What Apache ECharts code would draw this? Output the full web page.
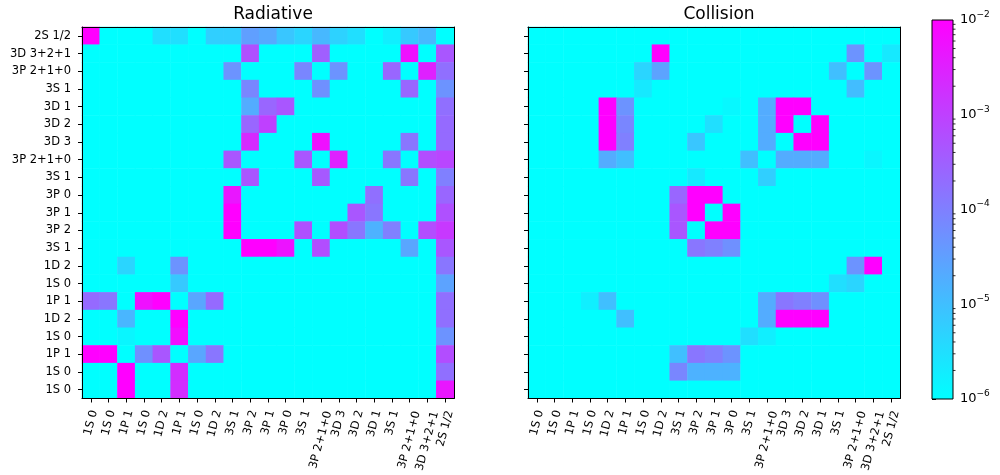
<!DOCTYPE html>
<html><head><meta charset="utf-8">
<script src="https://cdn.jsdelivr.net/npm/echarts@6/dist/echarts.min.js"></script>
<style>html,body{margin:0;padding:0;background:#fff}#c{width:1000px;height:475px}</style>
</head><body><div id="c"></div>
<script>
const titles = ['Radiative', 'Collision'];
const yLabels = ['2S 1/2','3D 3+2+1','3P 2+1+0','3S 1','3D 1','3D 2','3D 3','3P 2+1+0','3S 1','3P 0','3P 1','3P 2','3S 1','1D 2','1S 0','1P 1','1D 2','1S 0','1P 1','1S 0','1S 0'];
const xLabels = ['1S 0','1S 0','1P 1','1S 0','1D 2','1P 1','1S 0','1D 2','3S 1','3P 2','3P 1','3P 0','3S 1','3P 2+1+0','3D 3','3D 2','3D 1','3S 1','3P 2+1+0','3D 3+2+1','2S 1/2'];

// [rowIndex, colIndex, value]; cells not listed are below 1e-6
const radiative = [
 [0,0,1e-2],[0,4,3.2e-6],[0,5,3.2e-6],[0,7,5.6e-6],[0,8,5.6e-6],[0,9,3.2e-5],[0,10,2.2e-5],[0,11,7.9e-6],[0,12,4.5e-6],[0,13,1.3e-5],[0,14,5.0e-6],[0,15,3.2e-6],[0,17,1.8e-6],[0,18,7.1e-6],[0,19,1.3e-5],
 [1,9,5.6e-4],[1,13,3.2e-4],[1,18,5.6e-3],[1,20,4.5e-4],
 [2,8,5.0e-5],[2,12,7.9e-5],[2,14,5.0e-5],[2,17,2.5e-4],[2,19,3.2e-3],[2,20,1.8e-4],
 [3,9,7.9e-5],[3,13,5.6e-5],[3,18,2.5e-4],[3,20,5.0e-5],
 [4,9,2.0e-5],[4,10,2.5e-4],[4,11,4.5e-4],[4,20,1.8e-4],
 [5,9,2.5e-4],[5,10,1.0e-3],[5,20,2.2e-4],
 [6,9,2.2e-3],[6,13,5.6e-3],[6,18,1.4e-4],[6,20,2.2e-4],
 [7,8,4.5e-4],[7,12,4.5e-4],[7,14,3.2e-3],[7,17,1.4e-4],[7,19,6.3e-4],[7,20,7.9e-4],
 [8,9,4.5e-4],[8,13,4.0e-4],[8,18,1.4e-4],[8,20,1.0e-4],
 [9,8,4.5e-3],[9,16,1.8e-4],[9,20,2.5e-4],
 [10,8,1e-2],[10,15,4.5e-4],[10,16,1.4e-4],[10,20,5.6e-4],
 [11,8,1e-2],[11,12,5.6e-4],[11,14,6.3e-4],[11,15,1.4e-4],[11,16,1.6e-5],[11,17,1.0e-4],[11,19,6.3e-4],[11,20,1.3e-3],
 [12,9,1e-2],[12,10,1e-2],[12,11,5.0e-3],[12,13,6.3e-4],[12,18,2.5e-5],[12,20,4.5e-4],
 [13,2,4.5e-6],[13,5,5.0e-5],[13,20,1.4e-4],
 [14,5,7.1e-6],[14,20,2.8e-5],
 [15,0,2.2e-4],[15,1,1.4e-4],[15,3,5.6e-3],[15,4,1e-2],[15,6,2.5e-5],[15,7,2.2e-4],[15,20,1.8e-4],
 [16,2,1.4e-5],[16,5,1e-2],[16,20,1.8e-4],
 [17,2,1.4e-6],[17,5,6.3e-3],[17,20,5.0e-5],
 [18,0,1e-2],[18,1,1e-2],[18,3,5.6e-5],[18,4,4.5e-4],[18,6,2.5e-5],[18,7,1.4e-4],[18,20,6.3e-4],
 [19,2,1e-2],[19,5,2.0e-3],[19,20,1.8e-4],
 [20,2,1e-2],[20,5,2.0e-3],[20,20,4.5e-3]
];
const collision = [
 [1,7,1e-2],[1,18,5.0e-5],[1,20,2.2e-6],
 [2,6,4.5e-6],[2,7,2.8e-5],[2,17,1.0e-5],[2,19,5.0e-5],
 [3,6,2.2e-6],[3,18,1.1e-5],
 [4,4,1e-2],[4,5,5.0e-5],[4,11,1.3e-6],[4,13,2.0e-5],[4,14,1e-2],[4,15,1e-2],
 [5,4,1e-2],[5,5,7.9e-5],[5,10,3.2e-6],[5,13,2.0e-5],[5,14,1e-2],[5,16,1e-2],
 [6,4,1e-2],[6,5,1.0e-4],[6,9,7.9e-6],[6,13,2.0e-5],[6,15,1e-2],[6,16,1e-2],
 [7,4,2.0e-5],[7,5,1.0e-5],[7,12,1.0e-5],[7,14,2.0e-5],[7,15,2.0e-5],[7,16,2.0e-5],[7,19,1.4e-6],
 [8,9,2.2e-6],[8,13,5.6e-6],
 [9,8,2.5e-4],[9,9,1e-2],[9,10,1e-2],
 [10,8,4.5e-4],[10,9,1e-2],[10,11,1e-2],
 [11,8,4.5e-4],[11,10,1e-2],[11,11,1e-2],
 [12,9,1.4e-4],[12,10,1.0e-4],[12,11,5.6e-5],
 [13,18,5.0e-5],[13,19,1e-2],
 [14,17,3.2e-6],[14,18,4.5e-6],
 [15,3,1.8e-6],[15,4,1.0e-5],[15,13,2.0e-5],[15,14,1.4e-4],[15,15,1.0e-4],[15,16,5.6e-5],
 [16,5,1.0e-5],[16,13,2.0e-5],[16,14,1e-2],[16,15,1e-2],[16,16,1e-2],
 [17,12,3.2e-6],[17,13,1.8e-6],
 [18,8,1.0e-5],[18,9,1.4e-4],[18,10,1.0e-4],[18,11,5.0e-5],
 [19,8,7.9e-5],[19,9,1.6e-5],[19,10,1.6e-5],[19,11,1.6e-5]
];
const colorExpRange = [-6, -2];           // log10 of colour-scale limits
const colorStops = ['#00ffff', '#ff00ff']; // matplotlib "cool"
const cbMinorMultiples = [2,3,4,5,6,7,8,9];

function buildMatrix(entries) {
  const m = {};
  entries.forEach(([r, c, v]) => { m[r + ',' + c] = v; });
  const out = [];
  for (let r = 0; r < yLabels.length; r++) {
    for (let c = 0; c < xLabels.length; c++) {
      const v = m[r + ',' + c];
      let e = v ? Math.log10(v) : colorExpRange[0];
      e = Math.max(colorExpRange[0], Math.min(colorExpRange[1], e));
      out.push([c, r, e]);
    }
  }
  return out;
}
const cbMinorTicks = [];
for (let n = colorExpRange[0]; n < colorExpRange[1]; n++) {
  cbMinorMultiples.forEach(k => cbMinorTicks.push([1, n + Math.log10(k)]));
}

const FONT = 'DejaVu Sans';
const TICK_FS = 11.5;
const lineCol = '#000';
const gridW = 372, gridH = 372, gridTop = 27;
const gridLefts = [82, 528];

// rotated x labels: centre each label's box on its tick (matplotlib style)
const mctx = document.createElement('canvas').getContext('2d');
mctx.font = TICK_FS + 'px "' + FONT + '"';
const xRich = {};
xLabels.forEach((t, i) => {
  const L = mctx.measureText(t).width;
  xRich['p' + i] = { fontSize: TICK_FS, color: '#000', fontFamily: FONT,
    padding: [Math.round(0.26 * L), 0, 0, 0] };
});

function heatXAxes(gi) {
  return [
    { gridIndex: gi, type: 'category', data: xLabels, position: 'bottom', z: 10,
      axisLine: { show: true, lineStyle: { color: lineCol, width: 1 } },
      axisTick: { show: true, alignWithLabel: true, length: 4, lineStyle: { color: lineCol } },
      axisLabel: { rotate: 75, interval: 0, fontSize: TICK_FS, color: '#000', margin: 11, fontFamily: FONT,
        formatter: (v, i) => '{p' + i + '|' + v + '}', rich: xRich },
      splitLine: { show: false } },
    { gridIndex: gi, type: 'category', data: xLabels, position: 'top', z: 10,
      axisLine: { show: true, lineStyle: { color: lineCol, width: 1 } },
      axisTick: { show: false }, axisLabel: { show: false }, splitLine: { show: false } }
  ];
}
function heatYAxes(gi, showLabels) {
  return [
    { gridIndex: gi, type: 'category', data: yLabels, inverse: true, position: 'left', z: 10,
      axisLine: { show: true, lineStyle: { color: lineCol, width: 1 } },
      axisTick: { show: true, alignWithLabel: true, length: 4, lineStyle: { color: lineCol } },
      axisLabel: { show: showLabels, interval: 0, fontSize: TICK_FS, color: '#000', margin: 11, fontFamily: FONT },
      splitLine: { show: false } },
    { gridIndex: gi, type: 'category', data: yLabels, inverse: true, position: 'right', z: 10,
      axisLine: { show: true, lineStyle: { color: lineCol, width: 1 } },
      axisTick: { show: false }, axisLabel: { show: false }, splitLine: { show: false } }
  ];
}

const chart = echarts.init(document.getElementById('c'), null, { renderer: 'canvas' });
chart.setOption({
  animation: false,
  backgroundColor: '#fff',
  textStyle: { fontFamily: FONT },
  title: titles.map((t, i) => ({
    text: t, left: gridLefts[i] + gridW / 2, top: 1, textAlign: 'center',
    textStyle: { fontSize: 17, fontWeight: 'normal', color: '#000', fontFamily: FONT }
  })),
  grid: [
    { left: gridLefts[0], top: gridTop, width: gridW, height: gridH },
    { left: gridLefts[1], top: gridTop, width: gridW, height: gridH },
    { left: 932, top: 20, width: 21, height: 379 }
  ],
  xAxis: [
    ...heatXAxes(0), ...heatXAxes(1),
    { gridIndex: 2, type: 'value', min: 0, max: 1, show: false }
  ],
  yAxis: [
    ...heatYAxes(0, true), ...heatYAxes(1, false),
    { gridIndex: 2, type: 'value', min: colorExpRange[0], max: colorExpRange[1], interval: 1, position: 'right',
      axisLine: { show: false },
      axisTick: { show: true, length: 4, lineStyle: { color: lineCol } },
      splitLine: { show: false },
      axisLabel: { margin: 7, formatter: v => '{b|10}{s|\u2212' + Math.abs(v) + '}',
        rich: { b: { fontSize: 13, color: '#000', lineHeight: 20, fontFamily: FONT },
                s: { fontSize: 9, color: '#000', lineHeight: 10, verticalAlign: 'top', fontFamily: FONT } } } }
  ],
  visualMap: [{ type: 'continuous', min: colorExpRange[0], max: colorExpRange[1], seriesIndex: [0, 1], show: false,
    inRange: { color: colorStops } }],
  series: [
    { type: 'heatmap', xAxisIndex: 0, yAxisIndex: 0, data: buildMatrix(radiative), emphasis: { disabled: true }, progressive: 0 },
    { type: 'heatmap', xAxisIndex: 2, yAxisIndex: 2, data: buildMatrix(collision), emphasis: { disabled: true }, progressive: 0 },
    { type: 'custom', xAxisIndex: 4, yAxisIndex: 4, z: 5, silent: true,
      data: [[0, colorExpRange[0], 1, colorExpRange[1]]],
      renderItem: (params, api) => {
        const p0 = api.coord([api.value(0), api.value(1)]);
        const p1 = api.coord([api.value(2), api.value(3)]);
        return { type: 'rect',
          shape: { x: p0[0], y: p1[1], width: p1[0] - p0[0], height: p0[1] - p1[1] },
          style: { fill: new echarts.graphic.LinearGradient(0, 0, 0, 1,
            [{ offset: 0, color: colorStops[1] }, { offset: 1, color: colorStops[0] }]),
            stroke: '#000', lineWidth: 1 } };
      } },
    { type: 'custom', xAxisIndex: 4, yAxisIndex: 4, z: 6, silent: true, data: cbMinorTicks,
      renderItem: (params, api) => {
        const p = api.coord([api.value(0), api.value(1)]);
        return { type: 'line', shape: { x1: p[0], y1: p[1], x2: p[0] + 2.5, y2: p[1] },
          style: { stroke: '#000', lineWidth: 0.8 } };
      } }
  ]
});
</script></body></html>
